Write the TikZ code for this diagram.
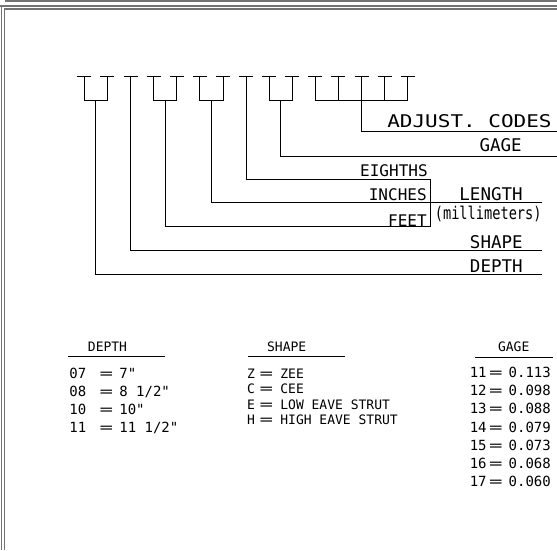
\documentclass[tikz,border=0pt]{standalone}
\usepackage{fontspec}
\setmainfont{DejaVu Sans Mono}[Ligatures=TeXOff]
\usepackage{graphicx}

\newcommand{\eqsign}{\scalebox{1.6}[1]{=}}

\tikzset{
  lbl/.style={anchor=base east, inner sep=0pt, font=\fontsize{17.5}{17.5}\selectfont},
  sublbl/.style={lbl, font=\fontsize{16}{16}\selectfont},
  tbl/.style={anchor=base west, inner sep=0pt, font=\fontsize{14}{14}\selectfont},
  tbltext/.style={tbl, font=\fontsize{13}{13}\selectfont},
  head/.style={tbltext, anchor=base},
  eqs/.style={tbl, anchor=base},
  frame/.style={line width=1.2pt, color=black!55},
}

\begin{document}
\begin{tikzpicture}[x=1pt, y=-1pt, line width=0.7pt]
    \useasboundingbox (0,0) rectangle (557,550);
    % sheet border
    \draw[frame] (6,0) -- (6,1) -- (557,1);
    \draw[frame] (160,0) -- (160,1);
    \draw[frame] (0,6) -- (557,6);
    \draw[frame] (1.5,6) -- (1.5,550);
    \draw[frame] (4.5,550) -- (4.5,9) -- (557,9);

    % character slots
    \foreach \i in {0,...,14} {
      \coordinate (s\i) at ({84.3+23.1*\i}, 76.7);
      \draw ([xshift=-7pt]s\i) -- ([xshift=7pt]s\i);
    }
    \foreach \a/\b in {0/1, 3/4, 5/6, 8/9, 10/14}
      \draw (s\a) -- (s\a |- 0,100) -- (s\b |- 0,100) -- (s\b);
    \foreach \i in {11,13}
      \draw (s\i) -- (s\i |- 0,100);

    % drop points
    \coordinate (dp) at (95.8,100);
    \coordinate (sh) at (s2);
    \coordinate (ft) at (165.4,100);
    \coordinate (in) at (211.6,100);
    \coordinate (ei) at (s7);
    \coordinate (ga) at (280.4,100);
    \coordinate (ad) at (s12);

    % line ends
    \coordinate (adend) at (557,131.7);
    \coordinate (gaend) at (557,156);
    \coordinate (eiend) at (430.7,179);
    \coordinate (inend) at (542,202.3);
    \coordinate (ftend) at (430.7,226.7);
    \coordinate (shend) at (542,250.3);
    \coordinate (dpend) at (542,274.3);

    \draw (ad) |- (adend);
    \draw (ga) |- (gaend);
    \draw (ei) |- (eiend);
    \draw (in) |- (inend);
    \draw (ft) |- (ftend);
    \draw (sh) |- (shend);
    \draw (dp) |- (dpend);
    \draw (eiend) -- (ftend);

    \node[lbl] (adlbl) at (552,127.5) {\scalebox{1.2}[1]{ADJUST. CODES}};
    \node[lbl] (galbl) at (522,151.5) {GAGE};
    \node[sublbl] (eilbl) at (428,176.5) {EIGHTHS};
    \node[sublbl] (inlbl) at (427,200.5) {INCHES};
    \node[lbl] (lenlbl) at (523,200.5) {LENGTH};
    \node[lbl] (mmlbl) at (542,219) {\scalebox{0.78}[1]{(millimeters)}};
    \node[sublbl] (ftlbl) at (427,226) {FEET};
    \node[lbl] (shlbl) at (523,248) {SHAPE};
    \node[lbl] (dplbl) at (523,272.5) {DEPTH};

    % code tables
    \begin{scope}[shift={(68.3,0)}]
      \node[head] (dphead) at (39.2,351.7) {DEPTH};
      \draw (0,356.7) -- (96.7,356.7);
      \foreach \c/\v [count=\k] in {07/{7"}, 08/{8 1/2"}, 10/{10"}, 11/{11 1/2"}} {
        \node[tbl] (dc\k) at (0.7,{378+18.1*(\k-1)}) {\c};
        \node[eqs] (de\k) at (38.1,{378+18.1*(\k-1)}) {\eqsign};
        \node[tbl] (dv\k) at (50.7,{378+18.1*(\k-1)}) {\v};
      }
    \end{scope}
    \begin{scope}[shift={(248.3,0)}]
      \node[head] (shhead) at (38.4,351.7) {SHAPE};
      \draw (0,356.7) -- (96.7,356.7);
      \foreach \c/\v [count=\k] in {Z/ZEE, C/CEE, E/{LOW EAVE STRUT}, H/{HIGH EAVE STRUT}} {
        \node[tbltext] (sc\k) at (-1.6,{378+15.6*(\k-1)}) {\c};
        \node[eqs] (se\k) at (18.1,{378+15.6*(\k-1)}) {\eqsign};
        \node[tbltext] (sv\k) at (31.7,{378+15.6*(\k-1)}) {\v};
      }
    \end{scope}
    \begin{scope}[shift={(475,0)}]
      \node[head] (gahead) at (38.7,351.7) {GAGE};
      \draw (0,357) -- (78.3,357);
      \foreach \c/\v [count=\k] in {11/0.113, 12/0.098, 13/0.088, 14/0.079, 15/0.073, 16/0.068, 17/0.060} {
        \node[tbl, anchor=base east] (gc\k) at (12,{377.5+18.2*(\k-1)}) {\c};
        \node[eqs] (ge\k) at (20.9,{377.5+18.2*(\k-1)}) {\eqsign};
        \node[tbl] (gv\k) at (33.3,{377.5+18.2*(\k-1)}) {\v};
      }
    \end{scope}
\end{tikzpicture}
\end{document}
